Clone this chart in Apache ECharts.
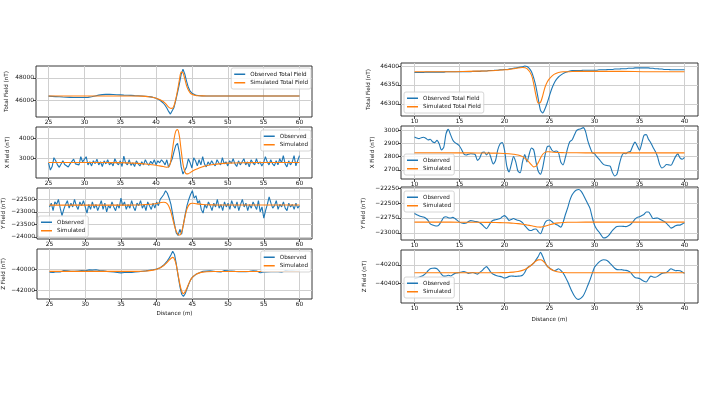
<!DOCTYPE html>
<html>
<head>
<meta charset="utf-8">
<script src="https://cdn.jsdelivr.net/npm/echarts@6/dist/echarts.min.js"></script>
<style>
  html, body { margin: 0; padding: 0; background: #fff; }
  #chart { width: 705px; height: 396px; }
</style>
</head>
<body>
<div id="chart"></div>
<script>
// ---- left profile (25 - 60 m), observed sampled every 0.25 m ----
const distL = [
  25, 25.25, 25.5, 25.75, 26, 26.25, 26.5, 26.75, 27, 27.25, 27.5, 27.75,
  28, 28.25, 28.5, 28.75, 29, 29.25, 29.5, 29.75, 30, 30.25, 30.5, 30.75,
  31, 31.25, 31.5, 31.75, 32, 32.25, 32.5, 32.75, 33, 33.25, 33.5, 33.75,
  34, 34.25, 34.5, 34.75, 35, 35.25, 35.5, 35.75, 36, 36.25, 36.5, 36.75,
  37, 37.25, 37.5, 37.75, 38, 38.25, 38.5, 38.75, 39, 39.25, 39.5, 39.75,
  40, 40.25, 40.5, 40.75, 41, 41.25, 41.5, 41.75, 42, 42.25, 42.5, 42.75,
  43, 43.25, 43.5, 43.75, 44, 44.25, 44.5, 44.75, 45, 45.25, 45.5, 45.75,
  46, 46.25, 46.5, 46.75, 47, 47.25, 47.5, 47.75, 48, 48.25, 48.5, 48.75,
  49, 49.25, 49.5, 49.75, 50, 50.25, 50.5, 50.75, 51, 51.25, 51.5, 51.75,
  52, 52.25, 52.5, 52.75, 53, 53.25, 53.5, 53.75, 54, 54.25, 54.5, 54.75,
  55, 55.25, 55.5, 55.75, 56, 56.25, 56.5, 56.75, 57, 57.25, 57.5, 57.75,
  58, 58.25, 58.5, 58.75, 59, 59.25, 59.5, 59.75, 60
]

const obsTotalL = [
  46360, 46350, 46340, 46330, 46320, 46310, 46300, 46290, 46280, 46270, 46265, 46260,
  46255, 46250, 46245, 46240, 46240, 46235, 46235, 46235, 46235, 46240, 46250, 46270,
  46300, 46340, 46380, 46420, 46450, 46480, 46500, 46510, 46520, 46525, 46525, 46520,
  46510, 46500, 46490, 46480, 46470, 46460, 46450, 46445, 46440, 46435, 46430, 46420,
  46410, 46400, 46395, 46390, 46380, 46370, 46355, 46340, 46320, 46300, 46270, 46230,
  46180, 46110, 46020, 45900, 45750, 45550, 45300, 45000, 44760, 44850, 45350, 46000,
  46700, 47450, 48300, 48760, 48350, 47700, 47150, 46800, 46620, 46520, 46460, 46420,
  46400, 46390, 46385, 46380, 46380, 46380, 46380, 46380, 46380, 46380, 46380, 46380,
  46380, 46380, 46380, 46380, 46380, 46380, 46380, 46380, 46380, 46380, 46380, 46380,
  46380, 46380, 46380, 46380, 46380, 46380, 46380, 46380, 46380, 46380, 46380, 46380,
  46380, 46380, 46380, 46380, 46380, 46380, 46380, 46380, 46380, 46380, 46380, 46380,
  46380, 46380, 46380, 46380, 46380, 46380, 46380, 46380, 46380
]

const obsXL = [
  2800, 2450, 2620, 3050, 2900, 2700, 2580, 2650, 2900, 2720, 2800, 2600,
  2750, 2680, 2980, 2750, 2820, 2700, 3100, 2850, 2780, 3100, 2700, 2850,
  2650, 2900, 2760, 2980, 2700, 2850, 2620, 2900, 2750, 2950, 2700, 2820,
  2650, 3000, 2800, 2700, 2900, 2620, 3130, 2800, 2700, 2950, 2680, 2800,
  2620, 2900, 2750, 2650, 2850, 2700, 2950, 2780, 2680, 2880, 2750, 2950,
  2700, 2900, 2800, 2950, 2850, 2700, 2950, 2580, 2550, 3000, 3350, 3650,
  3750, 3300, 2600, 2250, 2200, 2600, 3000, 2800, 2550, 3050, 2900, 2650,
  2950, 2700, 3100, 2750, 2600, 2850, 2700, 2900, 2750, 2650, 2950, 2800,
  2700, 3050, 2750, 2850, 2650, 2900, 2780, 3000, 2750, 2620, 2900, 2700,
  2850, 3000, 2700, 2850, 2600, 2950, 2800, 2700, 3000, 2750, 2850, 2650,
  2800, 3100, 2850, 2700, 2950, 2750, 2650, 2900, 2700, 3000, 2800, 3150,
  2750, 2600, 2900, 2700, 2850, 3150, 2650, 2900, 3150
]

const obsYL = [
  -22800, -22650, -22950, -22600, -22700, -22500, -22850, -23150, -22900, -22700, -22550, -22850,
  -22650, -22800, -22500, -22750, -22900, -22600, -22750, -22550, -22800, -23050, -22700, -22900,
  -22600, -22850, -22700, -22950, -22750, -22550, -22900, -22650, -23000, -22750, -22850, -22600,
  -22800, -22950, -22700, -22850, -22450, -22750, -22600, -22900, -22700, -22850, -22550, -22800,
  -22950, -22650, -22750, -22550, -22850, -22700, -22950, -22600, -22750, -22900, -22650, -22850,
  -22600, -22750, -22500, -22400, -22300, -22150, -22250, -22450, -22700, -23100, -23500, -23850,
  -23950, -23700, -23900, -23500, -23100, -22750, -22500, -22300, -22150, -22450, -22350, -22650,
  -22550, -22900, -23050, -22700, -22850, -22600, -22750, -22950, -22650, -22800, -22500, -22850,
  -22700, -22950, -22600, -22800, -22650, -22900, -22550, -22750, -22850, -22600, -22950, -22700,
  -22500, -22800, -22650, -22950, -22700, -22850, -22600, -22750, -22900, -22550, -23000, -22800,
  -23250, -22950, -22700, -22400, -22650, -22850, -22750, -22550, -22900, -22700, -22800, -22600,
  -22850, -22950, -22650, -22800, -22700, -22900, -22650, -22850, -22750
]

const obsZL = [
  -40280, -40200, -40310, -40250, -40220, -40150, -40260, -40180, -40120, -40210, -40140, -40230,
  -40180, -40100, -40200, -40090, -40160, -40070, -40130, -40060, -40150, -40100, -40060, -40170,
  -40080, -40140, -40050, -40160, -40120, -40200, -40150, -40260, -40200, -40290, -40230, -40310,
  -40260, -40340, -40300, -40380, -40340, -40400, -40310, -40360, -40280, -40250, -40310, -40220,
  -40260, -40180, -40230, -40150, -40180, -40100, -40150, -40060, -40090, -40000, -40050, -39950,
  -39980, -39880, -39850, -39720, -39600, -39420, -39200, -38950, -38650, -38300, -38600, -39500,
  -40600, -41600, -42350, -42560, -42300, -41850, -41400, -41000, -40750, -40600, -40480, -40400,
  -40330, -40280, -40190, -40250, -40170, -40230, -40150, -40260, -40190, -40140, -40230, -40160,
  -40250, -40180, -40120, -40210, -40150, -40240, -40170, -40270, -40200, -40130, -40220, -40160,
  -40240, -40310, -40220, -40290, -40200, -40260, -40150, -40230, -40170, -40250, -40320, -40230,
  -40280, -40190, -40260, -40150, -40220, -40130, -40210, -40160, -40240, -40180, -40270, -40200,
  -40130, -40210, -40160, -40240, -40170, -40110, -40200, -40140, -40200
]

// simulated curves, denser around the anomaly
const simDistL = [
  25, 27, 29, 31, 33, 35, 36, 37, 38, 38.5, 39, 39.5, 40, 40.5,
  41, 41.25, 41.5, 41.75, 42, 42.25, 42.5, 42.75, 43, 43.25, 43.5, 43.75,
  44, 44.25, 44.5, 44.75, 45, 45.5, 46, 46.5, 47, 48, 49, 50, 52, 54, 57, 60
]
const simTotalL = [
  46380, 46380, 46380, 46380, 46380, 46380, 46380, 46375, 46360, 46340, 46310, 46260, 46180, 46060,
  45880, 45740, 45560, 45380, 45280, 45270, 45500, 46100, 46900, 47800, 48500, 48450,
  47900, 47300, 46900, 46650, 46520, 46420, 46390, 46385, 46380, 46380, 46380, 46380, 46380, 46380, 46380, 46380
]
const simXL = [
  2820, 2820, 2820, 2820, 2815, 2810, 2800, 2785, 2760, 2745, 2725, 2705, 2680, 2650,
  2620, 2600, 2585, 2600, 2800, 3350, 3950, 4350, 4420, 4100, 3400, 2750,
  2380, 2260, 2270, 2320, 2380, 2470, 2550, 2610, 2660, 2720, 2760, 2785, 2805, 2815, 2820, 2820
]
const simYL = [
  -22730, -22730, -22730, -22730, -22730, -22730, -22728, -22725, -22715, -22705, -22695, -22680, -22660, -22630,
  -22610, -22620, -22680, -22800, -23000, -23280, -23560, -23780, -23900, -23930, -23800, -23500,
  -23150, -22880, -22730, -22660, -22650, -22670, -22690, -22705, -22715, -22720, -22725, -22725, -22725, -22725, -22725, -22725
]
const simZL = [
  -40200, -40200, -40200, -40200, -40200, -40200, -40200, -40195, -40180, -40160, -40130, -40080, -40000, -39860,
  -39650, -39500, -39320, -39130, -38980, -38880, -39050, -39600, -40500, -41400, -42050, -42300,
  -42100, -41750, -41350, -41000, -40760, -40480, -40340, -40270, -40240, -40215, -40205, -40205, -40205, -40205, -40205, -40205
]

// ---- right profile (10 - 40 m) ----
const distR = [
  10, 10.25, 10.5, 10.75, 11, 11.25, 11.5, 11.75, 12, 12.25, 12.5, 12.75,
  13, 13.25, 13.5, 13.75, 14, 14.25, 14.5, 14.75, 15, 15.25, 15.5, 15.75,
  16, 16.25, 16.5, 16.75, 17, 17.25, 17.5, 17.75, 18, 18.25, 18.5, 18.75,
  19, 19.25, 19.5, 19.75, 20, 20.25, 20.5, 20.75, 21, 21.25, 21.5, 21.75,
  22, 22.25, 22.5, 22.75, 23, 23.25, 23.5, 23.75, 24, 24.25, 24.5, 24.75,
  25, 25.25, 25.5, 25.75, 26, 26.25, 26.5, 26.75, 27, 27.25, 27.5, 27.75,
  28, 28.25, 28.5, 28.75, 29, 29.25, 29.5, 29.75, 30, 30.25, 30.5, 30.75,
  31, 31.25, 31.5, 31.75, 32, 32.25, 32.5, 32.75, 33, 33.25, 33.5, 33.75,
  34, 34.25, 34.5, 34.75, 35, 35.25, 35.5, 35.75, 36, 36.25, 36.5, 36.75,
  37, 37.25, 37.5, 37.75, 38, 38.25, 38.5, 38.75, 39, 39.25, 39.5, 39.75, 40
]

const obsTotalR = [
  46383, 46383, 46383, 46383, 46383, 46384, 46384, 46384, 46384, 46384, 46384, 46384,
  46384, 46384, 46385, 46385, 46385, 46385, 46385, 46385, 46385, 46385, 46385, 46385,
  46385, 46385, 46386, 46386, 46386, 46386, 46387, 46387, 46387, 46388, 46388, 46388,
  46389, 46389, 46390, 46390, 46391, 46391, 46392, 46393, 46394, 46395, 46396, 46397,
  46398, 46400, 46399, 46394, 46385, 46368, 46345, 46313, 46283, 46276, 46287, 46303,
  46322, 46340, 46354, 46364, 46371, 46376, 46380, 46383, 46385, 46387, 46388, 46388,
  46388, 46388, 46388, 46389, 46389, 46389, 46389, 46389, 46389, 46389, 46390, 46390,
  46390, 46390, 46391, 46391, 46391, 46392, 46392, 46392, 46393, 46393, 46393, 46394,
  46394, 46394, 46395, 46395, 46395, 46395, 46395, 46395, 46395, 46394, 46394, 46393,
  46393, 46392, 46392, 46391, 46391, 46391, 46390, 46390, 46390, 46390, 46390, 46390, 46390
]

const obsXR = [
  2948, 2940, 2935, 2942, 2945, 2938, 2925, 2930, 2912, 2905, 2922, 2895,
  2850, 2870, 2970, 3005, 2965, 2925, 2905, 2895, 2880, 2850, 2818, 2812,
  2818, 2822, 2820, 2815, 2772, 2790, 2830, 2835, 2812, 2832, 2790, 2745,
  2770, 2850, 2895, 2905, 2850, 2730, 2685, 2740, 2800, 2760, 2690, 2680,
  2760, 2815, 2760, 2820, 2865, 2850, 2760, 2690, 2668, 2720, 2810, 2875,
  2880, 2850, 2838, 2842, 2830, 2760, 2738, 2790, 2860, 2912, 2925, 2960,
  2995, 3005, 3010, 3018, 2990, 2920, 2870, 2830, 2822, 2800, 2782, 2760,
  2742, 2735, 2732, 2728, 2680, 2655, 2670, 2740, 2800, 2825, 2822, 2835,
  2840, 2880, 2909, 2880, 2848, 2900, 2960, 2965, 2930, 2905, 2870, 2840,
  2800, 2740, 2715, 2725, 2741, 2738, 2735, 2765, 2800, 2821, 2790, 2780, 2794
]

const obsYR = [
  -22675, -22695, -22712, -22725, -22735, -22755, -22790, -22850, -22870, -22880, -22885, -22860,
  -22800, -22740, -22730, -22745, -22750, -22740, -22760, -22790, -22820, -22835, -22840, -22835,
  -22810, -22795, -22800, -22810, -22815, -22830, -22860, -22900, -22930, -22880, -22820, -22790,
  -22780, -22770, -22760, -22730, -22710, -22740, -22790, -22775, -22760, -22775, -22790, -22800,
  -22830, -22880, -22920, -22955, -22960, -22940, -22935, -22980, -23015, -22930, -22830, -22790,
  -22785, -22810, -22840, -22860, -22880, -22905, -22830, -22700, -22590, -22460, -22365, -22310,
  -22280, -22272, -22300, -22360, -22435, -22510, -22590, -22740, -22870, -22940, -22985, -23040,
  -23085, -23080, -23055, -23010, -22960, -22920, -22895, -22890, -22890, -22892, -22895, -22880,
  -22860, -22820, -22770, -22740, -22730, -22710, -22690, -22650, -22650, -22700, -22760, -22755,
  -22750, -22770, -22790, -22810, -22840, -22880, -22920, -22905, -22880, -22870, -22870, -22850, -22830
]

const obsZR = [
  -40345, -40340, -40332, -40322, -40310, -40290, -40262, -40240, -40235, -40234, -40240, -40265,
  -40300, -40320, -40318, -40310, -40318, -40305, -40290, -40285, -40280, -40275, -40270, -40278,
  -40290, -40285, -40280, -40290, -40298, -40280, -40260, -40235, -40218, -40245, -40280, -40300,
  -40310, -40318, -40322, -40330, -40340, -40335, -40322, -40318, -40320, -40322, -40320, -40318,
  -40310, -40280, -40235, -40215, -40200, -40180, -40145, -40110, -40065, -40110, -40170, -40215,
  -40232, -40250, -40262, -40255, -40240, -40258, -40285, -40325, -40375, -40430, -40485, -40530,
  -40560, -40568, -40555, -40530, -40480, -40420, -40360, -40290, -40225, -40195, -40170, -40152,
  -40145, -40148, -40160, -40185, -40210, -40235, -40250, -40252, -40250, -40255, -40258, -40265,
  -40280, -40310, -40335, -40340, -40345, -40360, -40375, -40382, -40350, -40320, -40328, -40332,
  -40322, -40305, -40290, -40285, -40280, -40260, -40240, -40250, -40262, -40260, -40262, -40275, -40290
]

const simDistR = [
  10, 12, 14, 16, 18, 19, 20, 20.5, 21, 21.5, 22, 22.5, 23, 23.25, 23.5,
  23.75, 24, 24.25, 24.5, 24.75, 25, 25.5, 26, 26.5, 27, 28, 30, 33, 36, 40
]
const simTotalR = [
  46385, 46385, 46385, 46386, 46387, 46388, 46390, 46391, 46393, 46395, 46396, 46393, 46376, 46352, 46322,
  46302, 46304, 46322, 46344, 46358, 46367, 46378, 46383, 46385, 46385, 46386, 46386, 46386, 46385, 46385
]
const simXR = [
  2828, 2828, 2828, 2828, 2827, 2826, 2824, 2822, 2818, 2812, 2800, 2775, 2738, 2723, 2728,
  2755, 2790, 2818, 2832, 2837, 2836, 2833, 2831, 2830, 2829, 2829, 2828, 2828, 2828, 2828
]
const simYR = [
  -22820, -22820, -22820, -22822, -22824, -22826, -22830, -22833, -22838, -22845, -22855, -22868, -22882, -22890, -22897,
  -22902, -22903, -22898, -22888, -22876, -22864, -22845, -22833, -22826, -22823, -22821, -22820, -22820, -22820, -22820
]
const simZR = [
  -40284, -40284, -40284, -40284, -40284, -40284, -40282, -40280, -40277, -40270, -40258, -40235, -40200, -40178, -40158,
  -40146, -40145, -40155, -40180, -40210, -40235, -40262, -40276, -40281, -40283, -40284, -40284, -40284, -40284, -40284
]

// tick labels
const ticksXL = [25, 30, 35, 40, 45, 50, 55, 60]
const ticksXR = [10, 15, 20, 25, 30, 35, 40]
const ticksTotalL = [46000, 48000]
const ticksXFieldL = [3000, 4000]
const ticksYFieldL = [-24000, -23500, -23000, -22500]
const ticksZFieldL = [-42000, -40000]
const ticksTotalR = [46300, 46350, 46400]
const ticksXFieldR = [2700, 2800, 2900, 3000]
const ticksYFieldR = [-23000, -22750, -22500, -22250]
const ticksZFieldR = [-40400, -40200]

const FONT = 'DejaVu Sans'
const BLUE = '#1f77b4'
const ORANGE = '#ff7f0e'

const pairs = (xs, ys) => xs.map((x, i) => [x, ys[i]])
const fmt = (v) => String(v).replace('-', '\u2212')

// panel layout: [left, top, width, height]
const panels = [
  { box: [36, 66, 276, 51], xr: [23.25, 61.75], yr: [44500, 49050], xt: ticksXL, yt: ticksTotalL, name: 'Total Field (nT)', gap: 26 },
  { box: [36, 127, 276, 51], xr: [23.25, 61.75], yr: [2060, 4550], xt: ticksXL, yt: ticksXFieldL, name: 'X Field (nT)', gap: 25 },
  { box: [36, 188, 276, 51], xr: [23.25, 61.75], yr: [-24090, -22040], xt: ticksXL, yt: ticksYFieldL, name: 'Y Field (nT)', gap: 30 },
  { box: [36, 249, 276, 50], xr: [23.25, 61.75], yr: [-42800, -38090], xt: ticksXL, yt: ticksZFieldL, name: 'Z Field (nT)', gap: 30, bottom: 12 },
  { box: [401, 63, 297, 53], xr: [8.5, 41.5], yr: [46268, 46408], xt: ticksXR, yt: ticksTotalR, name: 'Total Field (nT)', gap: 29 },
  { box: [401, 126, 297, 53], xr: [8.5, 41.5], yr: [2632, 3030], xt: ticksXR, yt: ticksXFieldR, name: 'X Field (nT)', gap: 25 },
  { box: [401, 187, 297, 53], xr: [8.5, 41.5], yr: [-23120, -22230], xt: ticksXR, yt: ticksYFieldR, name: 'Y Field (nT)', gap: 34 },
  { box: [401, 250, 297, 53], xr: [8.5, 41.5], yr: [-40607, -40040], xt: ticksXR, yt: ticksZFieldR, name: 'Z Field (nT)', gap: 33, bottom: 14 }
]

const lines = [
  [distL, obsTotalL, simDistL, simTotalL, 'Observed Total Field', 'Simulated Total Field'],
  [distL, obsXL, simDistL, simXL, 'Observed', 'Simulated'],
  [distL, obsYL, simDistL, simYL, 'Observed', 'Simulated'],
  [distL, obsZL, simDistL, simZL, 'Observed', 'Simulated'],
  [distR, obsTotalR, simDistR, simTotalR, 'Observed Total Field', 'Simulated Total Field'],
  [distR, obsXR, simDistR, simXR, 'Observed', 'Simulated'],
  [distR, obsYR, simDistR, simYR, 'Observed', 'Simulated'],
  [distR, obsZR, simDistR, simZR, 'Observed', 'Simulated']
]

// legend placement per panel
const legendPos = [
  { right: 394, top: 68 },
  { right: 394, top: 130 },
  { left: 38, top: 216 },
  { right: 394, top: 251 },
  { left: 404, top: 92 },
  { left: 404, top: 154 },
  { left: 404, top: 191 },
  { left: 404, top: 277 }
]

const tickStyle = { fontSize: 5.9, color: '#111', fontFamily: FONT }
const nameStyle = { fontSize: 5.6, color: '#111', fontFamily: FONT }

const option = {
  animation: false,
  backgroundColor: '#fff',
  grid: panels.map(p => ({
    left: p.box[0], top: p.box[1], width: p.box[2], height: p.box[3],
    show: true, borderColor: '#222', borderWidth: 0.9
  })),
  xAxis: panels.map((p, i) => ({
    type: 'value', gridIndex: i, min: p.xr[0], max: p.xr[1],
    axisLine: { show: false },
    axisTick: { show: true, length: 3, customValues: p.xt, lineStyle: { color: '#222', width: 0.8 } },
    axisLabel: { customValues: p.xt, margin: 2, formatter: fmt, ...tickStyle },
    splitLine: { show: true, lineStyle: { color: '#cfcfcf', width: 1 } },
    name: p.bottom ? 'Distance (m)' : '',
    nameLocation: 'middle',
    nameGap: p.bottom || 0,
    nameTextStyle: nameStyle
  })),
  yAxis: panels.map((p, i) => ({
    type: 'value', gridIndex: i, min: p.yr[0], max: p.yr[1],
    axisLine: { show: false },
    axisTick: { show: true, length: 3, customValues: p.yt, lineStyle: { color: '#222', width: 0.8 } },
    axisLabel: { customValues: p.yt, margin: 2, formatter: fmt, ...tickStyle },
    splitLine: { show: true, lineStyle: { color: '#cfcfcf', width: 1 } },
    name: p.name,
    nameLocation: 'middle',
    nameRotate: 90,
    nameGap: p.gap,
    nameTextStyle: nameStyle
  })),
  legend: lines.map((l, i) => ({
    ...legendPos[i],
    orient: 'vertical',
    data: [l[4], l[5]],
    selectedMode: false,
    icon: 'rect',
    itemWidth: 11,
    itemHeight: 1.5,
    itemGap: 2,
    padding: [3, 3],
    backgroundColor: 'rgba(255,255,255,0.8)',
    borderColor: '#ccc',
    borderWidth: 0.8,
    borderRadius: 2,
    textStyle: { fontSize: 5.6, lineHeight: 6.5, color: '#111', fontFamily: FONT }
  })),
  series: lines.flatMap((l, i) => [
    {
      name: l[4], type: 'line', xAxisIndex: i, yAxisIndex: i,
      data: pairs(l[0], l[1]), showSymbol: false, smooth: i >= 4 ? 0.25 : false,
      lineStyle: { color: BLUE, width: 1.1 }, itemStyle: { color: BLUE }
    },
    {
      name: l[5], type: 'line', xAxisIndex: i, yAxisIndex: i,
      data: pairs(l[2], l[3]), showSymbol: false, smooth: 0.3,
      lineStyle: { color: ORANGE, width: 1.1 }, itemStyle: { color: ORANGE }
    }
  ])
}

const chart = echarts.init(document.getElementById('chart'))
chart.setOption(option)
</script>
</body>
</html>
